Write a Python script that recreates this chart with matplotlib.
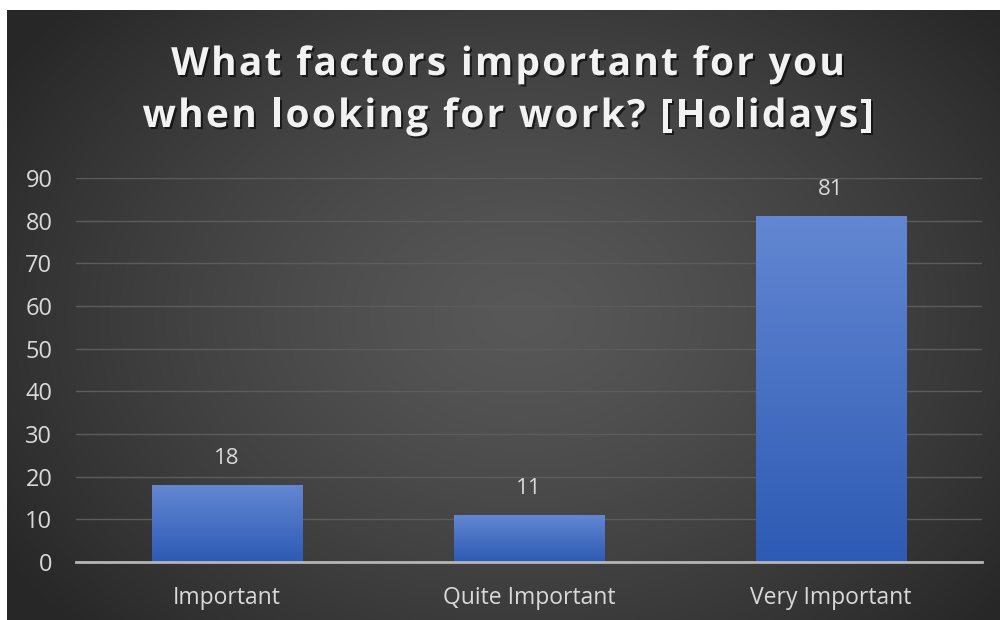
import numpy as np
import matplotlib
matplotlib.use("Agg")
import matplotlib.pyplot as plt
from matplotlib import patheffects as pe
from matplotlib.colors import LinearSegmentedColormap

categories = ["Important", "Quite Important", "Very Important"]
values = [18, 11, 81]
yticks = [0, 10, 20, 30, 40, 50, 60, 70, 80, 90]
title_lines = ["What factors important for you", "when looking for work? [Holidays]"]

W, H = 1000, 620
fig = plt.figure(figsize=(W / 100, H / 100), dpi=100, facecolor="white")

# radial gradient backdrop of the chart panel
bg_ax = fig.add_axes([7 / W, 0, 1 - 7 / W, 1 - 10 / H], zorder=0)
bg_ax.set_axis_off()
yy, xx = np.mgrid[0:1:300j, 0:1:500j]
r = np.sqrt(((xx - 0.52) / 0.62) ** 2 + ((yy - 0.5) / 0.75) ** 2)
r = np.clip(r, 0, 1)
lo, hi = 0.155, 0.345
shade = hi - (hi - lo) * r ** 1.3
bg_ax.imshow(np.dstack([shade, shade, shade]), aspect="auto",
             extent=[0, 1, 0, 1], origin="lower", interpolation="bicubic")
bg_ax.set_xlim(0, 1)
bg_ax.set_ylim(0, 1)

ax = fig.add_axes([76 / W, 1 - 562 / H, (982 - 76) / W, (562 - 178) / H], zorder=1)
ax.patch.set_alpha(0)

x = np.arange(len(categories))
bars = ax.bar(x, values, width=0.5, color="#3f69c4", zorder=2)

bar_cmap = LinearSegmentedColormap.from_list("bar", ["#2d5ab4", "#6387d2"])
grad = np.linspace(0, 1, 256).reshape(-1, 1)
for b in bars:
    x0, y0 = b.get_x(), b.get_y()
    w, h = b.get_width(), b.get_height()
    im = ax.imshow(grad, cmap=bar_cmap, aspect="auto", origin="lower",
                   extent=[x0, x0 + w, y0, y0 + h], zorder=3)
    im.set_clip_path(b)

for xi, v in zip(x, values):
    ax.annotate(f"{v}", (xi, v), xytext=(0, 27 / 1.389), textcoords="offset points",
                ha="center", va="center", fontsize=16, color="#d9d9d9",
                family="Open Sans", zorder=4)

ax.set_xlim(-0.5, len(categories) - 0.5)
ax.set_ylim(0, 90)
ax.set_yticks(yticks)
ax.set_xticks(x)
ax.set_xticklabels(categories)
ax.tick_params(axis="both", length=0, colors="#d9d9d9")
ax.tick_params(axis="y", pad=17, labelsize=17)
ax.tick_params(axis="x", pad=17, labelsize=16.5)
for lab in ax.get_xticklabels() + ax.get_yticklabels():
    lab.set_family("Open Sans")

ax.grid(axis="y", color="#5c5c5c", linewidth=1.0, zorder=1)
ax.set_axisbelow(True)
for s in ["top", "right", "left"]:
    ax.spines[s].set_visible(False)
ax.spines["bottom"].set_color("#b5b5b5")
ax.spines["bottom"].set_linewidth(2.0)
ax.spines["bottom"].set_zorder(5)

# title drawn glyph by glyph so that letter spacing can be widened
renderer = fig.canvas.get_renderer()
title_kw = dict(fontsize=28, fontweight="bold", family="Open Sans", color="#f2f2f2",
                va="baseline", ha="left", zorder=6,
                path_effects=[pe.withSimplePatchShadow(offset=(1.5, -1.5),
                                                       shadow_rgbFace="black", alpha=0.6)])
tracking = 2.3  # extra pixels between glyphs
center_x = 508
for line, base_y in zip(title_lines, [75, 127]):
    widths = []
    for ch in line:
        if ch == " ":
            t = fig.text(0, 0, "a a", **title_kw)
            w_full = t.get_window_extent(renderer).width
            t.set_text("aa")
            w = w_full - t.get_window_extent(renderer).width
        else:
            t = fig.text(0, 0, ch, **title_kw)
            w = t.get_window_extent(renderer).width
        t.remove()
        widths.append(w)
    total = sum(widths) + tracking * (len(line) - 1)
    cx = center_x - total / 2
    for ch, w in zip(line, widths):
        if ch != " ":
            fig.text(cx / W, 1 - base_y / H, ch, **title_kw)
        cx += w + tracking

fig.savefig("out.png", dpi=100, facecolor="white")
